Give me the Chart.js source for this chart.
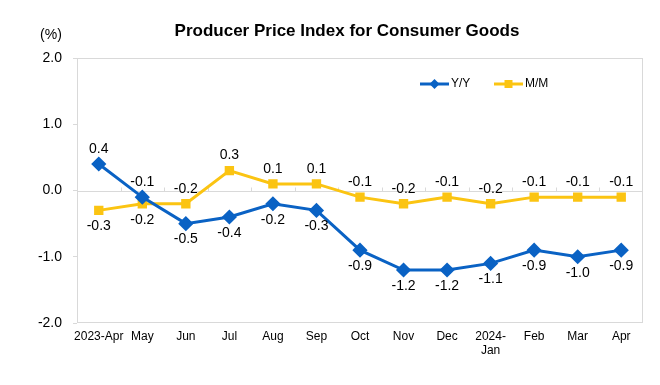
<!DOCTYPE html>
<html>
<head>
<meta charset="utf-8">
<script src="https://cdn.jsdelivr.net/npm/chart.js@4.4.1/dist/chart.umd.min.js"></script>
<style>
  html, body { margin: 0; padding: 0; background: #fff; }
  #wrap { width: 660px; height: 385px; }
</style>
</head>
<body>
<div id="wrap"><canvas id="ppiCanvas" width="660" height="385"></canvas></div>
<script>
const months = ["2023-Apr", "May", "Jun", "Jul", "Aug", "Sep", "Oct", "Nov", "Dec", ["2024-", "Jan"], "Feb", "Mar", "Apr"];
const yoy = [0.4, -0.1, -0.5, -0.4, -0.2, -0.3, -0.9, -1.2, -1.2, -1.1, -0.9, -1.0, -0.9];
const mom = [-0.3, -0.2, -0.2, 0.3, 0.1, 0.1, -0.1, -0.2, -0.1, -0.2, -0.1, -0.1, -0.1];
const yTicks = [-2, -1, 0, 1, 2];

const BLUE = "#0a62c4";
const YELLOW = "#fbc412";
const GRID = "#d9d9d9";
const FONT = "'Liberation Sans', Arial, sans-serif";

// frame, zero line with small ticks, title, unit, legend, value labels
const decor = {
    id: "decor",
    beforeDatasetsDraw(chart) {
        const {ctx, chartArea: a, scales: {x, y}} = chart;
        ctx.save();
        ctx.strokeStyle = GRID;
        ctx.lineWidth = 1;
        ctx.strokeRect(a.left + 0.5, a.top + 0.5, a.right - a.left - 1, a.bottom - a.top - 1);
        const y0 = Math.round(y.getPixelForValue(0)) + 0.5;
        ctx.beginPath();
        ctx.moveTo(a.left, y0);
        ctx.lineTo(a.right, y0);
        const half = (x.getPixelForValue(1) - x.getPixelForValue(0)) / 2;
        for (let i = 1; i < months.length; i++) {
            const px = Math.round(x.getPixelForValue(i) - half) + 0.5;
            ctx.moveTo(px, y0);
            ctx.lineTo(px, y0 - 4);
        }
        ctx.stroke();
        ctx.restore();
    },
    afterDatasetsDraw(chart) {
        const {ctx} = chart;
        const sets = chart.data.datasets;
        ctx.save();
        ctx.fillStyle = "#000";
        ctx.font = "14px " + FONT;
        ctx.textAlign = "center";
        ctx.textBaseline = "middle";
        sets.forEach((ds, i) => {
            const other = sets[1 - i].data;
            chart.getDatasetMeta(i).data.forEach((pt, j) => {
                const v = ds.data[j];
                const above = v >= other[j];
                ctx.fillText(v.toFixed(1), pt.x, pt.y + (above ? -15 : 16));
            });
        });

        // title and unit
        ctx.font = "bold 17px " + FONT;
        ctx.fillText("Producer Price Index for Consumer Goods", 347, 31);
        ctx.font = "14px " + FONT;
        ctx.fillText("(%)", 51, 35);

        // legend
        const items = [
            {label: "Y/Y", color: BLUE, shape: "diamond", x: 420},
            {label: "M/M", color: YELLOW, shape: "square", x: 494}
        ];
        const ly = 84;
        ctx.font = "12px " + FONT;
        ctx.textAlign = "left";
        items.forEach(it => {
            ctx.strokeStyle = it.color;
            ctx.fillStyle = it.color;
            ctx.lineWidth = 3;
            ctx.beginPath();
            ctx.moveTo(it.x, ly);
            ctx.lineTo(it.x + 29, ly);
            ctx.stroke();
            const cx = it.x + 14.5;
            ctx.beginPath();
            if (it.shape === "diamond") {
                ctx.moveTo(cx, ly - 5);
                ctx.lineTo(cx + 5, ly);
                ctx.lineTo(cx, ly + 5);
                ctx.lineTo(cx - 5, ly);
                ctx.closePath();
            } else {
                ctx.rect(cx - 4, ly - 4, 8, 8);
            }
            ctx.fill();
            ctx.fillStyle = "#000";
            ctx.fillText(it.label, it.x + 31, ly);
        });
        ctx.restore();
    }
};

const ppiCanvas = document.getElementById("ppiCanvas");
const ppiChart = new Chart(ppiCanvas, {
    type: "line",
    data: {
        labels: months,
        datasets: [
            {
                label: "Y/Y",
                data: yoy,
                borderColor: BLUE,
                backgroundColor: BLUE,
                borderWidth: 3,
                pointStyle: "rectRot",
                pointRadius: 5.5,
                pointHoverRadius: 5.5,
                tension: 0
            },
            {
                label: "M/M",
                data: mom,
                borderColor: YELLOW,
                backgroundColor: YELLOW,
                borderWidth: 3,
                pointStyle: "rect",
                pointRadius: 4.5,
                pointHoverRadius: 4.5,
                tension: 0
            }
        ]
    },
    options: {
        responsive: false,
        animation: false,
        devicePixelRatio: 1,
        layout: {
            padding: {top: 58, right: 17, bottom: 0, left: 0}
        },
        plugins: {
            legend: {display: false},
            title: {display: false},
            tooltip: {enabled: false}
        },
        scales: {
            x: {
                offset: true,
                grid: {display: false, drawTicks: false},
                border: {display: false},
                ticks: {
                    color: "#000",
                    padding: 6,
                    maxRotation: 0,
                    autoSkip: false,
                    font: {family: FONT, size: 12, lineHeight: 1.2}
                },
                afterFit(s) { s.height = 62; }
            },
            y: {
                min: -2,
                max: 2,
                afterBuildTicks(s) { s.ticks = yTicks.map(v => ({value: v})); },
                grid: {
                    drawOnChartArea: false,
                    tickLength: 4,
                    tickColor: GRID
                },
                border: {display: false},
                ticks: {
                    color: "#000",
                    padding: 11,
                    font: {family: FONT, size: 14},
                    callback: v => v.toFixed(1)
                },
                afterFit(s) { s.width = 77; }
            }
        }
    },
    plugins: [decor]
});
</script>
</body>
</html>
